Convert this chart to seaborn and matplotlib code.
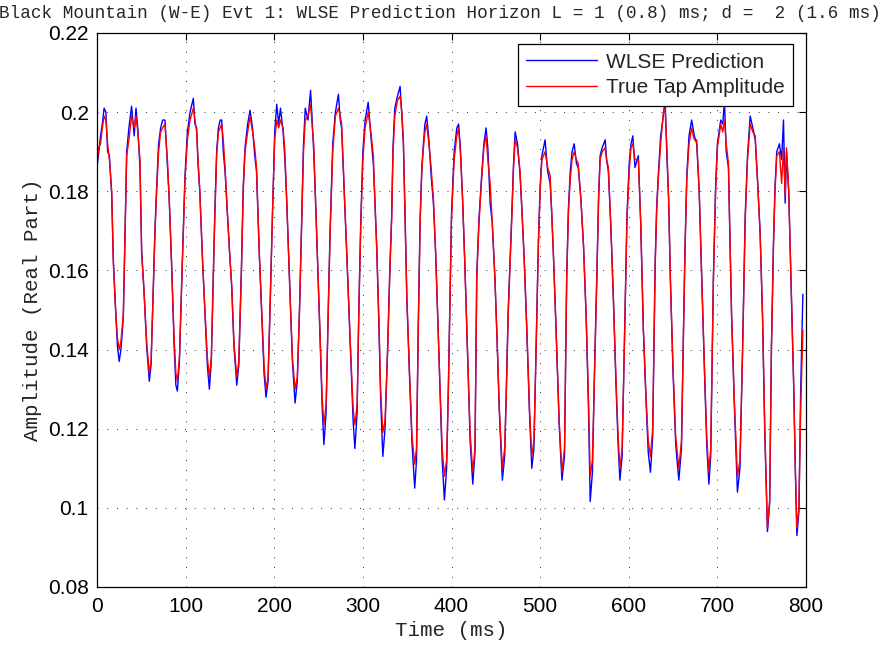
import matplotlib
matplotlib.use("Agg")
import matplotlib.pyplot as plt
import seaborn as sns
import pandas as pd

# ---- data ----
time_ms = [0, 2, 4, 6, 8, 10, 12, 14, 16.6, 18.4, 21, 23, 25, 27, 29.7, 31.5, 33.5, 36, 39, 42,
           44, 46, 48.5, 50.4, 53, 56, 59, 61, 63.5, 65.5, 67.3, 69.5, 71.8, 74, 76.7, 79.4, 81.5, 84.2, 87, 89,
           90.7, 93, 96, 99.3, 102, 105, 108.7, 110.5, 112.4, 114, 116, 119, 122, 124.5, 126.8, 129, 131, 133, 135, 137,
           139, 140.7, 142.5, 144.5, 147, 149.5, 152, 154.5, 157.7, 160, 163, 165, 167, 170, 172.7, 175.5, 178, 180, 183, 186,
           188.5, 190.7, 193, 195.5, 198, 200.5, 202.8, 205, 207, 210, 212, 214, 216, 217.8, 220.5, 223.5, 226, 228.5, 231, 233,
           235, 238, 241, 243, 244.5, 247, 249.5, 251.7, 254, 256, 258.5, 261, 263, 266, 269, 272.4, 274.5, 276, 279, 281.5,
           283.6, 286.5, 289, 291, 293.5, 295.5, 297.6, 300, 302.5, 306, 309, 311.8, 313.5, 315.6, 318, 320, 322.5, 325, 328, 330.5,
           332.5, 334, 336, 339, 342, 344, 345.7, 347.5, 349.6, 352.5, 355.5, 358.5, 360.5, 362.5, 364.6, 366.5, 368.3, 370, 372, 374.5,
           377, 379.6, 382, 384.5, 387, 389.5, 392, 394.5, 396.5, 398, 400, 403, 406, 408, 410, 412.5, 415, 418, 421, 424,
           426.5, 428.5, 431, 434, 436.5, 439, 441, 443.6, 446, 449, 451.5, 454, 457.4, 460, 462, 464, 468, 470, 471.8, 474.5,
           477.4, 479.5, 482, 485, 488, 490.6, 493, 495.5, 498, 500, 502, 505.6, 508.5, 511.3, 513, 515, 518, 521.5, 524.6, 527.5,
           530, 532, 534, 536, 538.4, 541, 543, 546, 549, 552, 554.5, 556.5, 559, 561.5, 564, 566, 567.7, 570, 573.4, 575,
           577, 580, 582.7, 585.5, 588, 590, 592.5, 595, 598, 600.5, 602.5, 604.6, 607, 610.8, 613.5, 616.5, 619.5, 622, 624.5, 627,
           629.8, 631.5, 633.3, 636, 639, 641, 643, 645, 647, 650, 653, 656.5, 659.5, 661.6, 663.5, 665.5, 668, 671, 674, 676.7,
           679.5, 682.4, 685.5, 688, 690.4, 692.5, 695.5, 698, 700, 703.8, 706, 708, 710, 712.5, 714, 716, 719, 722.6, 725.5, 728.5,
           731.4, 734, 737, 740, 742.7, 745.5, 748.3, 751, 753.5, 756.5, 759, 761, 763.3, 765, 767, 770, 772.5, 774.6, 776.5, 778,
           780.5, 783, 786, 788, 789.7, 792, 794, 796.5]

true_amp = [.187, .191, .192, .196, .199, .198, .192, .188, .180, .162, .150, .143, .140, .142, .149, .168, .189, .193, .199, .196,
            .199, .195, .188, .164, .155, .142, .134, .137, .155, .170, .180, .190, .195, .196, .197, .188, .178, .161, .143, .134,
            .132, .138, .160, .183, .193, .198, .201, .198, .195, .188, .180, .163, .149, .138, .133, .138, .156, .174, .189, .195,
            .196, .197, .193, .186, .175, .165, .156, .142, .133, .137, .160, .180, .190, .195, .199, .195, .191, .186, .165, .149,
            .136, .130, .133, .152, .1745, .193, .198, .196, .198, .196, .190, .178, .165, .154, .138, .130, .133, .150, .172, .190,
            .198, .199, .202, .196, .192, .175, .158, .143, .128, .121, .126, .150, .169, .190, .199, .201, .199, .197, .180, .166,
            .154, .138, .125, .121, .126, .150, .171, .188, .196, .200, .195, .189, .178, .166, .148, .130, .119, .122, .140, .160,
            .173, .190, .199, .203, .204, .200, .193, .175, .153, .135, .118, .111, .115, .145, .172, .185, .191, .195, .197, .192,
            .186, .178, .165, .148, .131, .115, .108, .112, .130, .149, .173, .188, .194, .196, .190, .178, .162, .140, .119, .109,
            .115, .158, .172, .183, .191, .194, .188, .182, .172, .158, .142, .125, .110, .115, .130, .149, .173, .186, .193, .191,
            .185, .175, .163, .145, .125, .113, .117, .140, .166, .180, .188, .190, .186, .184, .175, .164, .145, .122, .109, .115,
            .158, .175, .183, .188, .190, .188, .187, .178, .166, .148, .128, .108, .112, .135, .158, .178, .188, .190, .191, .188,
            .186, .170, .1525, .133, .118, .110, .115, .140, .1727, .185, .191, .192, .188, .188, .172, .145, .128, .117, .113, .120,
            .161, .175, .183, .192, .1997, .201, .191, .178, .1576, .135, .118, .110, .117, .142, .165, .183, .192, .196, .193, .193,
            .180, .1576, .135, .118, .109, .115, .1576, .180, .191, .197, .195, .198, .192, .187, .170, .149, .128, .108, .112, .140,
            .1727, .188, .197, .195, .194, .182, .169, .148, .120, .095, .102, .140, .166, .180, .189, .190, .182, .191, .179, .191,
            .180, .158, .132, .110, .095, .100, .125, .145]

wlse_pred = [.186, .190, .194, .197, .201, .200, .190, .189, .179, .163, .150, .141, .137, .140, .148, .168, .190, .196, .2015, .194,
             .201, .196, .186, .165, .155, .141, .132, .136, .156, .171, .181, .192, .196, .198, .198, .187, .178, .162, .141, .131,
             .1295, .137, .160, .184, .195, .200, .2035, .197, .196, .187, .180, .163, .148, .136, .130, .137, .157, .175, .190, .196,
             .198, .198, .190, .185, .175, .165, .156, .141, .131, .136, .161, .181, .191, .197, .2005, .196, .189, .185, .165, .148,
             .134, .128, .132, .153, .175, .195, .202, .197, .201, .195, .188, .178, .165, .154, .137, .1265, .132, .150, .173, .192,
             .201, .198, .2055, .197, .190, .175, .158, .143, .126, .116, .124, .151, .170, .192, .200, .2045, .198, .196, .180, .166,
             .154, .137, .122, .115, .124, .151, .172, .190, .198, .2025, .194, .187, .178, .166, .147, .128, .113, .120, .141, .161,
             .174, .191, .201, .204, .2065, .199, .192, .175, .153, .134, .116, .105, .112, .146, .173, .186, .192, .197, .199, .193,
             .184, .177, .165, .148, .130, .112, .102, .110, .131, .150, .174, .190, .196, .197, .191, .178, .162, .140, .117, .106,
             .114, .159, .173, .184, .192, .196, .191, .177, .172, .158, .142, .124, .107, .113, .131, .150, .174, .187, .195, .192,
             .184, .175, .163, .145, .124, .110, .115, .141, .167, .181, .189, .193, .185, .182, .175, .164, .145, .121, .107, .113,
             .159, .176, .185, .190, .192, .187, .186, .178, .166, .148, .126, .1016, .109, .136, .159, .179, .189, .191, .193, .188,
             .185, .170, .1525, .132, .116, .107, .113, .141, .174, .187, .192, .194, .186, .189, .172, .145, .127, .114, .109, .118,
             .162, .176, .184, .194, .199, .2035, .189, .178, .1576, .134, .116, .107, .115, .143, .166, .184, .194, .198, .194, .192,
             .180, .1576, .134, .116, .106, .113, .158, .181, .192, .198, .197, .2025, .190, .186, .170, .149, .127, .104, .110, .141,
             .174, .189, .199, .196, .193, .182, .169, .148, .119, .094, .101, .141, .167, .181, .190, .192, .188, .198, .177, .190,
             .180, .158, .132, .109, .093, .099, .130, .154]

x_ticks = [0, 100, 200, 300, 400, 500, 600, 700, 800]
y_ticks = [0.08, 0.10, 0.12, 0.14, 0.16, 0.18, 0.20, 0.22]
y_tick_labels = ["0.08", "0.1", "0.12", "0.14", "0.16", "0.18", "0.2", "0.22"]

series_names = ["WLSE Prediction", "True Tap Amplitude"]
series_colors = ["#0000ff", "#ff0000"]

title_text = "Black Mountain (W-E) Evt 1: WLSE Prediction Horizon L = 1 (0.8) ms; d =  2 (1.6 ms)"
x_label = "Time (ms)"
y_label = "Amplitude (Real Part)"

# ---- plotting ----
sns.set_style("white")
plt.rcParams["font.family"] = ["Liberation Sans", "DejaVu Sans"]

df_pred = pd.DataFrame({"t": time_ms, "v": wlse_pred})
df_true = pd.DataFrame({"t": time_ms, "v": true_amp})

fig = plt.figure(figsize=(8.8, 6.46), dpi=100)
ax = fig.add_axes([97 / 880, 1 - 587 / 646, 709 / 880, 554 / 646])

sns.lineplot(data=df_pred, x="t", y="v", ax=ax, color=series_colors[0], lw=1.0,
             estimator=None, sort=False, label=series_names[0])
sns.lineplot(data=df_true, x="t", y="v", ax=ax, color=series_colors[1], lw=1.0,
             estimator=None, sort=False, label=series_names[1])

ax.set_xlim(0, 800)
ax.set_ylim(0.08, 0.22)
ax.set_xticks(x_ticks)
ax.set_yticks(y_ticks)
ax.set_yticklabels(y_tick_labels)

ax.grid(True, color="black", linestyle=(0, (1, 9)), linewidth=0.7, alpha=0.8)
for s in ax.spines.values():
    s.set_color("black")
    s.set_linewidth(0.9)
    s.set_visible(True)
ax.tick_params(direction="in", top=True, right=True, length=5, width=0.8,
               labelsize=15, colors="black")
ax.tick_params(axis="x", pad=7)
ax.tick_params(axis="y", pad=6)

ax.set_xlabel(x_label, family="Liberation Mono", fontsize=15)
ax.set_ylabel(y_label, family="Liberation Mono", fontsize=15)
ax.xaxis.label.set_va("center")
ax.xaxis.set_label_coords(0.5, (587 - 631) / 554)
ax.yaxis.label.set_va("center")
ax.yaxis.set_label_coords((33 - 97) / 709, 0.5)

leg = ax.legend(loc="upper right", bbox_to_anchor=((793 - 97) / 709, (587 - 44) / 554),
                borderaxespad=0, fontsize=15, frameon=True, fancybox=False,
                handlelength=3.4, handletextpad=0.4, borderpad=0.42, labelspacing=0.3)
leg.get_frame().set_edgecolor("black")
leg.get_frame().set_linewidth(0.9)
leg.get_frame().set_alpha(1)
for line in leg.get_lines():
    line.set_linewidth(1.0)

fig.text(440 / 880, 1 - 14 / 646, title_text, ha="center", va="center",
         family="Liberation Mono", fontsize=12.7)

fig.savefig("out.png", dpi=100, facecolor="white")
